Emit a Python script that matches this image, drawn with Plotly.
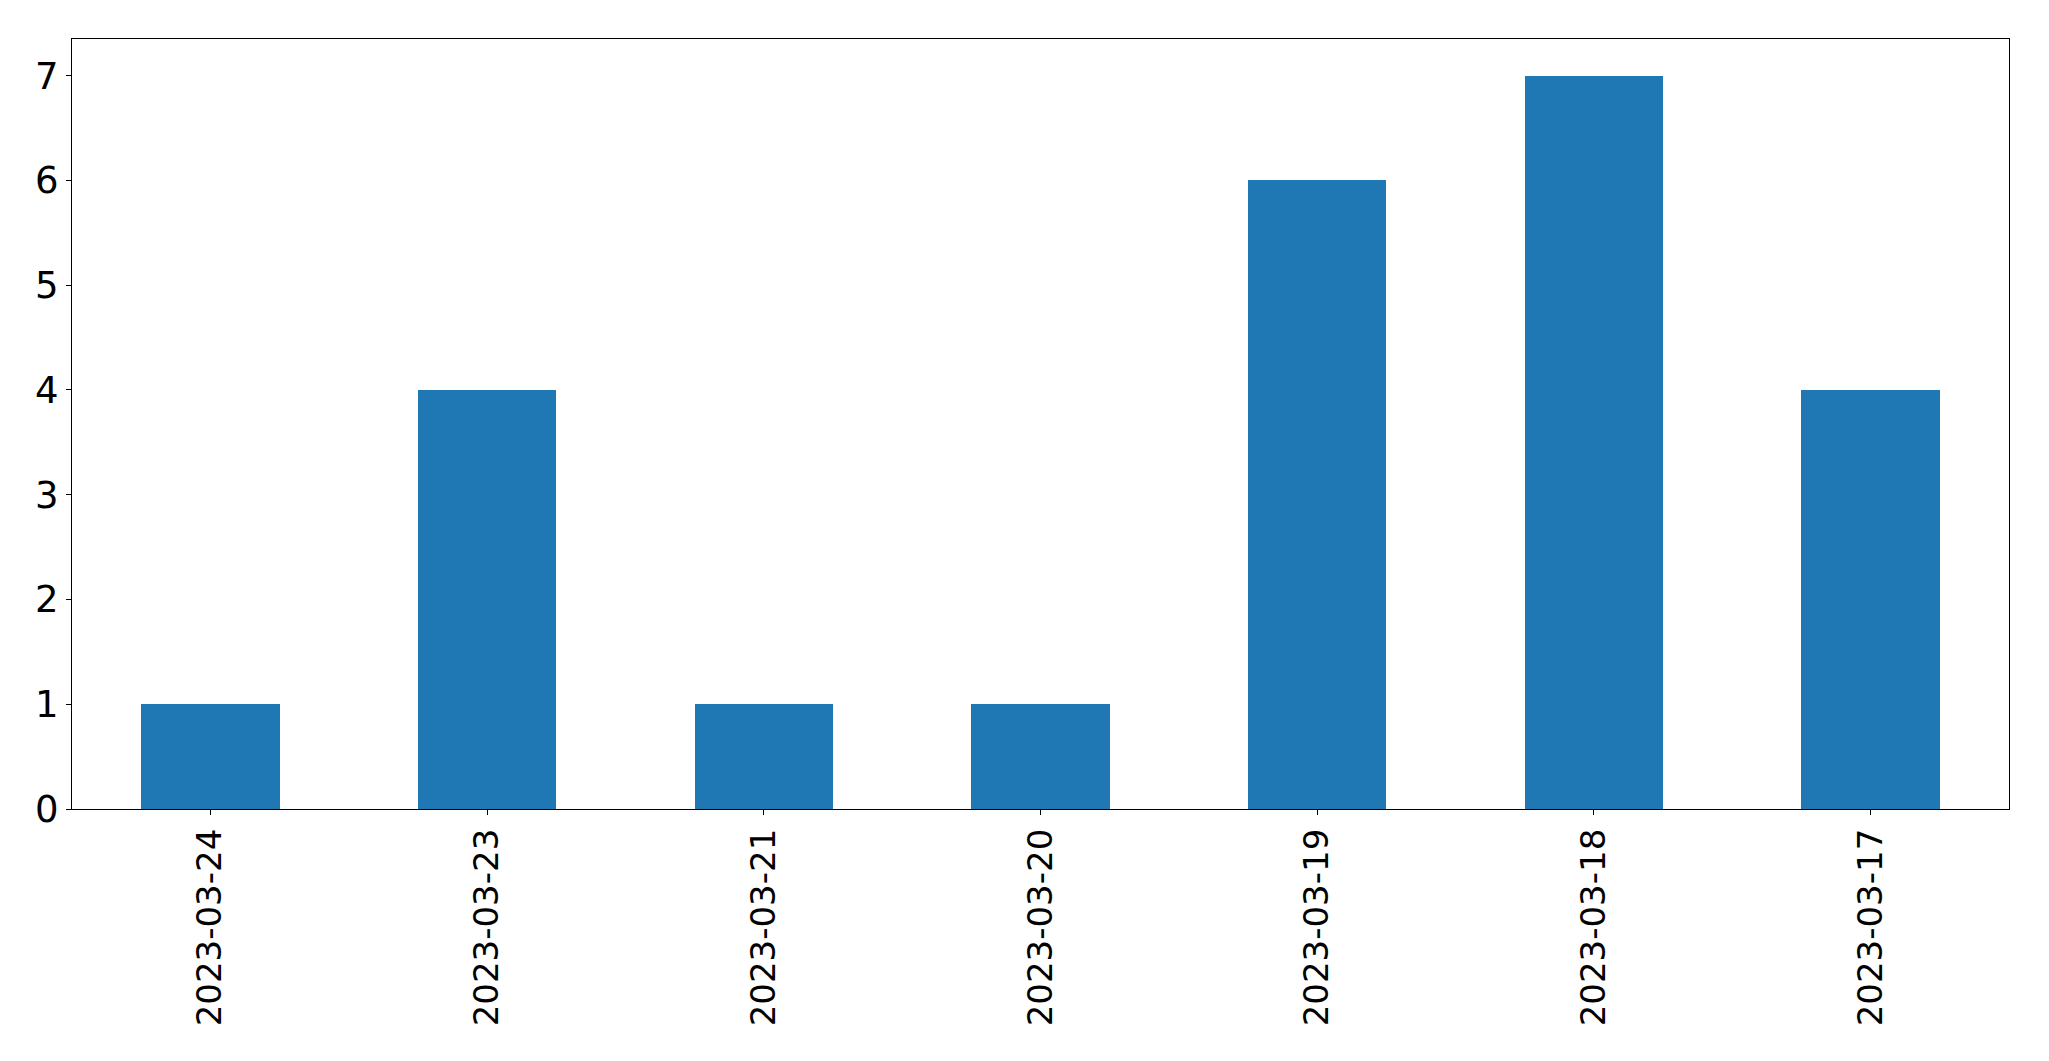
import plotly.graph_objects as go

dates = ["2023-03-24", "2023-03-23", "2023-03-21", "2023-03-20", "2023-03-19", "2023-03-18", "2023-03-17"]
counts = [1, 4, 1, 1, 6, 7, 4]
y_ticks = [0, 1, 2, 3, 4, 5, 6, 7]

fig = go.Figure(go.Bar(x=dates, y=counts, width=0.5, marker=dict(color="#1f77b4", line=dict(width=0))))

axis_common = dict(showline=True, linecolor="black", linewidth=1.3, mirror=True,
                   ticks="outside", ticklen=5, tickwidth=1.3, tickcolor="black",
                   showgrid=False, zeroline=False)

fig.update_layout(
    width=2041, height=1053,
    margin=dict(l=64, r=40, t=31, b=252),
    paper_bgcolor="white", plot_bgcolor="white",
    showlegend=False,
    bargap=0,
    xaxis=dict(type="category", range=[-0.5, 6.5], tickangle=-90,
               tickfont=dict(family="DejaVu Sans", size=34, color="black"), **axis_common),
    yaxis=dict(range=[0, 7.35], tickvals=y_ticks,
               tickfont=dict(family="DejaVu Sans", size=37, color="black"), **axis_common),
)

fig.write_html("out.html")
